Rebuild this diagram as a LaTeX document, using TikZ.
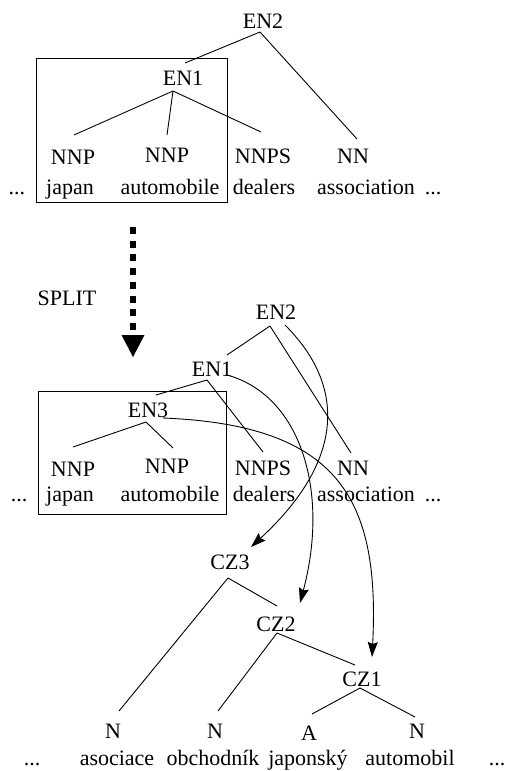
\documentclass[tikz,border=0pt]{standalone}
\usepackage{fontspec}
\setmainfont{Liberation Serif}
\usetikzlibrary{arrows.meta}
\begin{document}
\begin{tikzpicture}[x=1pt,y=-1pt,
  lbl/.style={anchor=base, inner sep=0pt, font=\fontsize{22}{24}\selectfont},
  tree/.style={line width=0.9pt},
  boxline/.style={line width=1pt},
  arr/.style={line width=0.9pt, -{Stealth[length=15pt,width=10pt,inset=2pt]}}]
\useasboundingbox (0,0) rectangle (507,771);

% ---------- top tree ----------
\node[lbl] (tEN2) at (263,28) {EN2};
\node[lbl] (tEN1) at (183,85) {EN1};
\node[lbl] (tNNPa) at (73,164) {NNP};
\node[lbl] (tNNPb) at (167,162.5) {NNP};
\node[lbl] (tNNPS) at (263,163) {NNPS};
\node[lbl] (tNN) at (353,163) {NN};
\node[lbl] (tdl) at (17,194) {...};
\node[lbl] (tw1) at (70,194) {japan};
\node[lbl] (tw2) at (170,194) {automobile};
\node[lbl] (tw3) at (264,194) {dealers};
\node[lbl] (tw4) at (366,194) {association};
\node[lbl] (tdr) at (433,194) {...};

\coordinate (tE2a) at (260,32);
\coordinate (tE1t) at (185,63);
\coordinate (tNNt) at (357,139);
\coordinate (tE1a) at (173,91);
\coordinate (tP1t) at (74,135);
\coordinate (tP2t) at (167,135);
\coordinate (tPSt) at (261,132);
\draw[tree] (tE2a) -- (tE1t);
\draw[tree] (tE2a) -- (tNNt);
\draw[tree] (tE1a) -- (tP1t);
\draw[tree] (tE1a) -- (tP2t);
\draw[tree] (tE1a) -- (tPSt);
\coordinate (tb1) at (36,58);
\coordinate (tb2) at (227,202);
\draw[boxline] (tb1) rectangle (tb2);

% ---------- split arrow ----------
\node[lbl] (split) at (67,305) {SPLIT};
\coordinate (sa) at (133,227);
\coordinate (sb) at (133,330);
\draw[line width=5.5pt, dash pattern=on 7pt off 6.7pt] (sa) -- (sb);
\coordinate (sh1) at (121.5,335);
\coordinate (sh2) at (144.5,335);
\coordinate (sh3) at (133,357);
\fill (sh1) -- (sh2) -- (sh3) -- cycle;

% ---------- middle tree ----------
\node[lbl] (mEN2) at (276,319) {EN2};
\node[lbl] (mEN1) at (212,376) {EN1};
\node[lbl] (mEN3) at (148,417) {EN3};
\node[lbl] (mNNPa) at (73,476) {NNP};
\node[lbl] (mNNPb) at (167,473) {NNP};
\node[lbl] (mNNPS) at (263,475) {NNPS};
\node[lbl] (mNN) at (353,475) {NN};
\node[lbl] (mdl) at (19,501) {...};
\node[lbl] (mw1) at (70,501) {japan};
\node[lbl] (mw2) at (170,501) {automobile};
\node[lbl] (mw3) at (264,501) {dealers};
\node[lbl] (mw4) at (366,501) {association};
\node[lbl] (mdr) at (433,501) {...};

\coordinate (mE2a) at (270,326);
\coordinate (mE1t) at (227,355);
\coordinate (mNNt) at (351,453);
\coordinate (mE1a) at (207,380);
\coordinate (mE3t) at (156,395);
\coordinate (mPSt) at (263,452);
\coordinate (mE3a) at (146,422);
\coordinate (mP1t) at (73,447);
\coordinate (mP2t) at (173,448);
\draw[tree] (mE2a) -- (mE1t);
\draw[tree] (mE2a) -- (mNNt);
\draw[tree] (mE1a) -- (mE3t);
\draw[tree] (mE1a) -- (mPSt);
\draw[tree] (mE3a) -- (mP1t);
\draw[tree] (mE3a) -- (mP2t);
\coordinate (mb1) at (38,391);
\coordinate (mb2) at (226,514);
\draw[boxline] (mb1) rectangle (mb2);

% ---------- bottom tree ----------
\node[lbl] (CZ3) at (230,569) {CZ3};
\node[lbl] (CZ2) at (276,631) {CZ2};
\node[lbl] (CZ1) at (362,686) {CZ1};
\node[lbl] (bN1) at (113,738) {N};
\node[lbl] (bN2) at (215,738) {N};
\node[lbl] (bA) at (309,740) {A};
\node[lbl] (bN4) at (417,738) {N};
\node[lbl] (bdl) at (32,765) {...};
\node[lbl] (bw1) at (117,765) {asociace};
\node[lbl] (bw2) at (213,765) {obchodník};
\node[lbl] (bw3) at (308,765) {japonský};
\node[lbl] (bw4) at (410,765) {automobil};
\node[lbl] (bdr) at (497,765) {...};

\coordinate (C3a) at (228,578);
\coordinate (N1t) at (119,711);
\coordinate (C2t) at (277,606);
\coordinate (C2a) at (277,633);
\coordinate (N2t) at (218,711);
\coordinate (C1t) at (355,665);
\coordinate (C1a) at (360,688);
\coordinate (At) at (312,714);
\coordinate (N4t) at (415,717);
\draw[tree] (C3a) -- (N1t);
\draw[tree] (C3a) -- (C2t);
\draw[tree] (C2a) -- (N2t);
\draw[tree] (C2a) -- (C1t);
\draw[tree] (C1a) -- (At);
\draw[tree] (C1a) -- (N4t);

% ---------- alignment curves ----------
\coordinate (k1s) at (285,325);
\coordinate (k1e) at (251,547);
\coordinate (k2s) at (227,375);
\coordinate (k2e) at (300,603);
\coordinate (k3s) at (163,418);
\coordinate (k3e) at (372,657);
\draw[arr] (k1s) .. controls (350,390) and (340,465) .. (k1e);
\draw[arr] (k2s) .. controls (300,395) and (330,490) .. (k2e);
\draw[arr] (k3s) .. controls (340,425) and (380,500) .. (k3e);
\end{tikzpicture}
\end{document}
